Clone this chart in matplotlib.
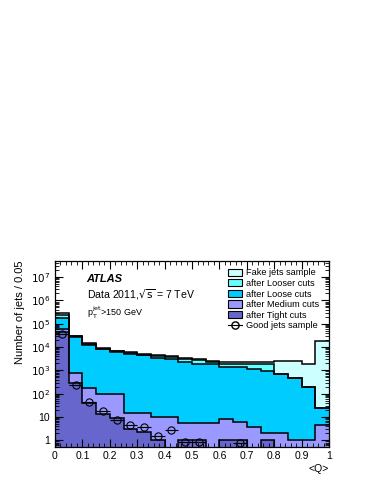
import numpy as np
import matplotlib
matplotlib.use("Agg")
import matplotlib.pyplot as plt
from matplotlib.patches import Patch
from matplotlib.lines import Line2D
from matplotlib.ticker import LogLocator, MultipleLocator, FixedLocator, NullFormatter

plt.rcParams['font.family'] = ['Liberation Sans', 'DejaVu Sans']

edges = np.round(np.arange(0, 1.0001, 0.05), 3)

fake = [2.8e5, 3.1e4, 1.45e4, 9.4e3, 7.1e3, 6.0e3, 5.3e3, 4.8e3, 4.3e3, 3.4e3,
        3.0e3, 2.6e3, 2.2e3, 2.2e3, 2.2e3, 2.2e3, 2.45e3, 2.45e3, 1.9e3, 1.8e4]
looser = [2.3e5, 2.9e4, 1.35e4, 8.6e3, 6.5e3, 5.4e3, 4.8e3, 4.3e3, 3.9e3, 3.0e3,
          2.7e3, 2.3e3, 1.95e3, 1.95e3, 1.95e3, 1.95e3, 700, 490, 200, 24]
loose = [1.8e5, 2.6e4, 1.25e4, 8.0e3, 6.0e3, 5.0e3, 4.5e3, 3.4e3, 3.0e3, 2.2e3,
         1.95e3, 1.8e3, 1.45e3, 1.4e3, 1.1e3, 970, 700, 490, 200, 24]
medium = [5.8e4, 740, 180, 93, 93, 15, 15, 10, 10, 5.4,
          5.4, 5.4, 8, 6.3, 3.9, 2.1, 2.1, 1.0, 1.0, 4.5]
tight = [4.6e4, 280, 40, 14, 9, 3, 2.2, 1, 0, 1,
         1, 0, 1, 1, 0, 1, 0, 0, 0, 0]
good_x = [0.025, 0.075, 0.125, 0.175, 0.225, 0.275, 0.325, 0.375, 0.425, 0.475, 0.525, 0.675]
good_y = [3.8e4, 235, 42, 18.6, 7.4, 4.5, 3.6, 1.6, 2.8, 0.85, 0.85, 0.8]

colors = {
    'Fake jets sample': '#ccffff',
    'after Looser cuts': '#66ffff',
    'after Loose cuts': '#00ccff',
    'after Medium cuts': '#9999ff',
    'after Tight cuts': '#6666cc',
}
series = [('Fake jets sample', fake), ('after Looser cuts', looser),
          ('after Loose cuts', loose), ('after Medium cuts', medium),
          ('after Tight cuts', tight)]

fig = plt.figure(figsize=(3.74, 4.84), dpi=100)
ax = fig.add_axes([0.147, 0.077, 0.733, 0.384])

floor = 1e-3
for name, vals in series:
    v = np.array(vals, dtype=float)
    v[v <= 0] = floor
    ax.stairs(v, edges, baseline=floor, fill=True, facecolor=colors[name],
              edgecolor='none', zorder=1)
    ax.stairs(v, edges, baseline=None, color='black', linewidth=1.1, zorder=2)

ax.errorbar(good_x, good_y, xerr=0.025, fmt='o', mfc='none', mec='black',
            ecolor='black', ms=5.2, mew=0.8, elinewidth=0.8, capsize=0, zorder=4)

ax.set_yscale('log')
ax.set_xlim(0, 1)
ax.set_ylim(0.53, 5e7)

ax.xaxis.set_minor_locator(MultipleLocator(0.02))
ax.set_xticks(np.round(np.arange(0, 1.01, 0.1), 1))
ax.set_xticklabels(['0', '0.1', '0.2', '0.3', '0.4', '0.5', '0.6', '0.7', '0.8', '0.9', '1'])
ax.yaxis.set_major_locator(FixedLocator([1, 10, 1e2, 1e3, 1e4, 1e5, 1e6, 1e7]))
ax.set_yticklabels(['1', '10', r'$10^{2}$', r'$10^{3}$', r'$10^{4}$', r'$10^{5}$', r'$10^{6}$', r'$10^{7}$'])
ax.yaxis.set_minor_locator(LogLocator(base=10, subs=np.arange(2, 10), numticks=20))
ax.yaxis.set_minor_formatter(NullFormatter())
ax.tick_params(which='both', direction='in', top=True, right=True, labelsize=7.5)
ax.tick_params(which='major', length=6)
ax.tick_params(which='minor', length=3)
ax.tick_params(axis='x', pad=3)
for s in ax.spines.values():
    s.set_linewidth(0.9)

ax.set_ylabel('Number of jets / 0.05', fontsize=8, loc='top', labelpad=4)
fig.text(0.88, 0.03, '<Q>', fontsize=7.5, ha='right', va='center')

ax.text(0.115, 0.905, 'ATLAS', transform=ax.transAxes, fontsize=8, fontweight='bold',
        fontstyle='italic', va='center')
ax.text(0.115, 0.82, r'Data 2011,$\sqrt{\mathrm{s}}$ = 7 TeV', transform=ax.transAxes,
        fontsize=7.6, va='center')
ax.text(0.115, 0.72, r'p$_{\mathrm{T}}^{\mathrm{jet}}$>150 GeV', transform=ax.transAxes,
        fontsize=6.5, va='center')

handles = [Patch(facecolor=colors[n], edgecolor='black', linewidth=0.8) for n, _ in series]
handles.append(Line2D([], [], color='black', marker='o', mfc='none', mec='black',
                      ms=5.2, lw=0.8))
labels = [n for n, _ in series] + ['Good jets sample']
ax.legend(handles, labels, loc='upper right', bbox_to_anchor=(0.985, 0.99), frameon=False,
          fontsize=6.6, handlelength=1.5, handleheight=0.8, handletextpad=0.5,
          labelspacing=0.18, borderaxespad=0.2)

fig.savefig('out.png', dpi=100)
